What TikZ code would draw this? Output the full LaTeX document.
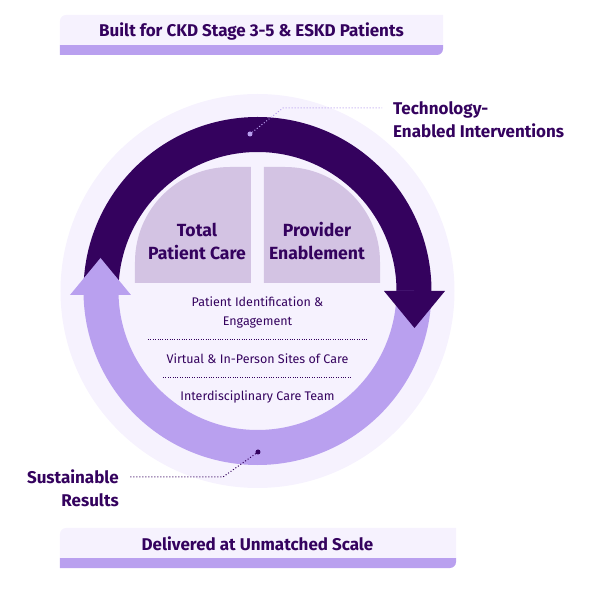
\documentclass[tikz,border=0pt]{standalone}
\usepackage{fontspec}
\setmainfont{Fira Sans}
\usepackage{xcolor}
\definecolor{deep}{HTML}{34025E}
\definecolor{lilac}{HTML}{B9A0EF}
\definecolor{mist}{HTML}{F6F2FE}
\definecolor{padfill}{HTML}{D3C3E3}

\tikzset{
  heading/.style={font=\bfseries\fontsize{17}{23}\selectfont, text=deep, align=center, inner sep=0pt},
  pillar/.style={font=\bfseries\fontsize{17.6}{23}\selectfont, text=deep, align=center, inner sep=0pt},
  item/.style={font=\fontsize{12.5}{18.5}\selectfont, text=deep, align=center, inner sep=0pt},
  callout/.style={font=\bfseries\fontsize{17}{23}\selectfont, text=deep, inner ysep=0pt, inner xsep=11pt},
  leader/.style={line width=1pt, dash pattern=on 1pt off 2pt},
  dot/.style={circle, inner sep=0pt, minimum size=5pt},
}

\begin{document}
\begin{tikzpicture}[x=1pt,y=1pt]
  \useasboundingbox (-257.5,-300) rectangle (334.5,291);

  % banners
  \fill[lilac] (-197.5,236) -- (-197.5,246) -- (185.5,246) -- (185.5,242) arc[start angle=0,end angle=-90,radius=6] -- cycle;
  \fill[mist] (-197.5,246) -- (-197.5,270) arc[start angle=180,end angle=90,radius=6] -- (185.5,276) -- (185.5,246) -- cycle;
  \node [heading, anchor=base] (built) at (-6,254) {Built for CKD Stage 3-5 \& ESKD Patients};

  \fill[lilac] (-197.5,-277) -- (-197.5,-267) -- (198.5,-267) -- (198.5,-271) arc[start angle=0,end angle=-90,radius=6] -- cycle;
  \fill[mist] (-197.5,-267) -- (-197.5,-243) arc[start angle=180,end angle=90,radius=6] -- (198.5,-237) -- (198.5,-267) -- cycle;
  \node [heading, anchor=base] (scale) at (0,-259) {Delivered at Unmatched Scale};

  % cycle
  \fill[mist] (0,0) circle[radius=197];
  \draw[deep, line width=35pt] (180:156.5) arc[start angle=180,end angle=0,radius=156.5];
  \draw[lilac, line width=35pt] (0:156.5) arc[start angle=0,end angle=-180,radius=156.5];
  \fill[deep] (126.5,0) -- (187.5,0) -- (157,-37) -- cycle;
  \fill[lilac] (-187.5,-4) -- (-126.5,-4) -- (-157,33) -- cycle;

  % pillars
  \fill[padfill] (-6.5,8) -- (-122.5,8) -- (-122.5,29) arc[start angle=180,end angle=90,radius=95] -- (-6.5,124) -- cycle;
  \fill[padfill] (6.5,8) -- (122.5,8) -- (122.5,29) arc[start angle=0,end angle=90,radius=95] -- (6.5,124) -- cycle;
  \node [pillar] (tpc) at (-60.5,49.5) {Total\\Patient Care};
  \node [pillar] (pe) at (59.5,49.5) {Provider\\Enablement};

  \node [item] (pie) at (0,-21.5) {Patient Identification \&\\Engagement};
  \node [item] (sites) at (0,-68) {Virtual \& In-Person Sites of Care};
  \node [item] (team) at (0,-106) {Interdisciplinary Care Team};
  \draw[deep, line width=0.8pt, dash pattern=on 0.8pt off 1.6pt] (-109.5,-48) -- (109.5,-48);
  \draw[deep, line width=0.8pt, dash pattern=on 0.8pt off 1.6pt] (-94.5,-86) -- (94.5,-86);

  % callouts
  \node [dot, fill=lilac] (techdot) at (-7.5,157) {};
  \coordinate (techbend) at (25.5,183);
  \node [callout, anchor=west, align=left] (tech) at (124.5,171.5) {Technology-\\Enabled Interventions};
  \draw[leader, lilac] (techdot) -- (techbend) -- (techbend -| tech.west);

  \node [dot, fill=deep] (sustdot) at (0.5,-161) {};
  \coordinate (sustbend) at (-34.5,-186);
  \node [callout, anchor=east, align=right] (sust) at (-127.5,-197.5) {Sustainable\\Results};
  \draw[leader, deep] (sustdot) -- (sustbend) -- (sustbend -| sust.east);
\end{tikzpicture}
\end{document}
